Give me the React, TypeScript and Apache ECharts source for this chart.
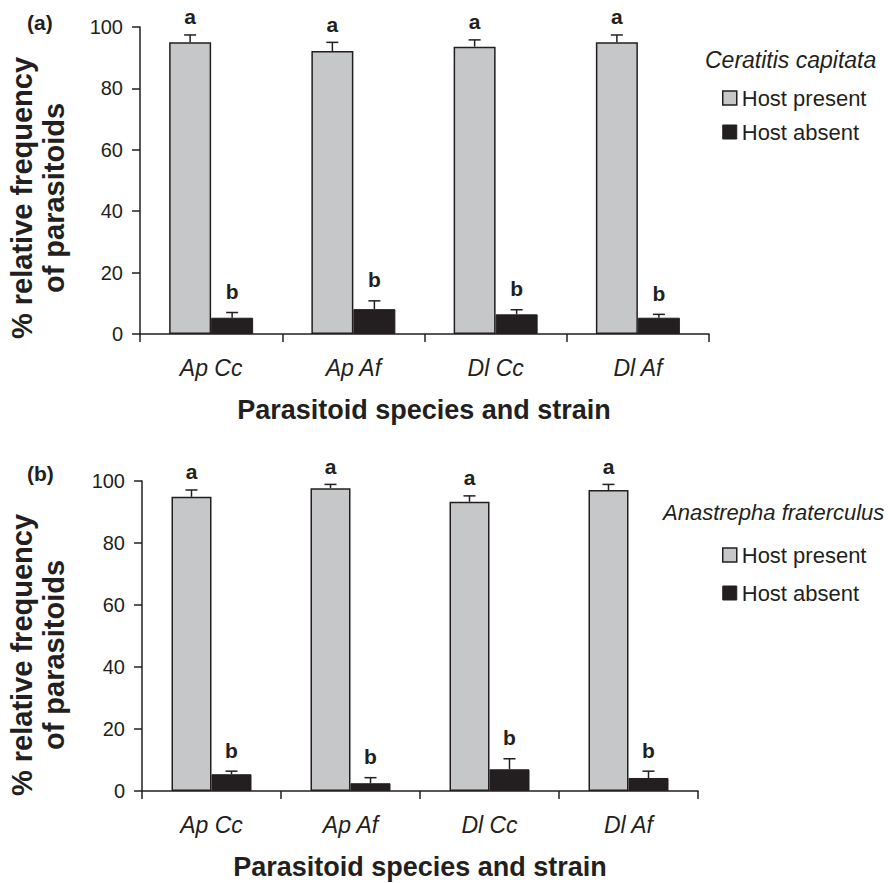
import React, { useEffect, useRef } from "react";
import * as echarts from "echarts";

const categories = ["Ap Cc", "Ap Af", "Dl Cc", "Dl Af"];
const yTicks = [0, 20, 40, 60, 80, 100];

// Panel (a): Ceratitis capitata
const presentA = [95.0, 92.2, 93.6, 95.0];
const presentASE = [2.4, 2.8, 2.2, 2.4];
const absentA = [5.3, 8.1, 6.4, 5.3];
const absentASE = [1.7, 2.7, 1.5, 1.1];

// Panel (b): Anastrepha fraterculus
const presentB = [94.9, 97.7, 93.3, 97.1];
const presentBSE = [2.2, 1.2, 1.9, 1.8];
const absentB = [5.4, 2.5, 7.0, 4.2];
const absentBSE = [1.0, 1.8, 3.4, 2.2];

const lettersPresent = ["a", "a", "a", "a"];
const lettersAbsent = ["b", "b", "b", "b"];

const seriesNames = ["Host present", "Host absent"];
const speciesNames = ["Ceratitis capitata", "Anastrepha fraterculus"];

const FONT = 'Arial, "Liberation Sans", Helvetica, sans-serif';
const INK = "#231f20";
const GRAY = "#c6c7c9";

export default function App() {
  const ref = useRef<HTMLDivElement>(null);

  useEffect(() => {
    document.body.style.margin = "0";
    if (!ref.current) return;
    const chart = echarts.init(ref.current, null, { renderer: "svg" });

    const grids = [
      { left: 140, right: 185, top: 27, height: 307, barW: 42 },
      { left: 142, right: 196, top: 481, height: 310, barW: 40 },
    ];

    const errSeries = (
      gi: number,
      values: number[],
      ses: number[],
      letters: string[],
      side: number
    ) => ({
      type: "custom",
      xAxisIndex: gi,
      yAxisIndex: gi,
      silent: true,
      clip: false,
      z: 5,
      data: values.map((v, i) => [i, v, v + ses[i]]),
      renderItem: (params: any, api: any) => {
        const i = api.value(0);
        const base = api.coord([i, api.value(1)]);
        const top = api.coord([i, api.value(2)]);
        const x = base[0] + (side * grids[gi].barW) / 2;
        const letter = letters[params.dataIndex];
        return {
          type: "group",
          children: [
            {
              type: "line",
              shape: { x1: x, y1: base[1], x2: x, y2: top[1] },
              style: { stroke: INK, lineWidth: 1.5 },
            },
            {
              type: "line",
              shape: { x1: x - 6, y1: top[1], x2: x + 6, y2: top[1] },
              style: { stroke: INK, lineWidth: 1.5 },
            },
            {
              type: "text",
              x: x,
              y: top[1] - (letter === "a" ? 18 : 21),
              style: {
                text: letter,
                fontSize: 21,
                fontWeight: "bold",
                fontFamily: FONT,
                fill: INK,
                align: "center",
                verticalAlign: "middle",
              },
            },
          ],
        };
      },
    });

    const barSeries = (gi: number, name: string, values: number[], present: boolean) => ({
      type: "bar",
      name,
      xAxisIndex: gi,
      yAxisIndex: gi,
      data: values,
      barWidth: grids[gi].barW,
      barGap: "0%",
      itemStyle: present
        ? { color: GRAY, borderColor: INK, borderWidth: 1.5 }
        : { color: INK, borderColor: INK, borderWidth: 1 },
    });

    const xAxis = grids.map((g, gi) => ({
      type: "category",
      gridIndex: gi,
      data: categories,
      axisLine: { show: true, lineStyle: { color: INK, width: 1.5 } },
      axisTick: { show: true, interval: 0, length: 8, lineStyle: { color: INK, width: 1.5 } },
      axisLabel: {
        interval: 0,
        margin: 22,
        fontSize: 23,
        fontStyle: "italic",
        fontFamily: FONT,
        color: INK,
      },
    }));

    const yAxis = grids.map((g, gi) => ({
      type: "value",
      gridIndex: gi,
      min: yTicks[0],
      max: yTicks[yTicks.length - 1],
      interval: 20,
      axisLine: { show: true, lineStyle: { color: INK, width: 1.5 } },
      axisTick: { show: true, length: 8, lineStyle: { color: INK, width: 1.5 } },
      splitLine: { show: false },
      axisLabel: { margin: 17, fontSize: 20, fontFamily: FONT, color: INK },
    }));

    const legendData = () => [
      { name: seriesNames[0], itemStyle: { color: GRAY, borderColor: INK, borderWidth: 1.5 } },
      { name: seriesNames[1], itemStyle: { color: INK, borderColor: INK, borderWidth: 1 } },
    ];

    const legendCommon = {
      orient: "vertical",
      left: 717,
      icon: "rect",
      itemWidth: 14,
      itemHeight: 14,
      selectedMode: false,
      textStyle: { fontSize: 22, fontFamily: FONT, color: INK, lineHeight: 22 },
    };

    const titleText = (text: string, x: number, y: number) => ({
      type: "text",
      x,
      y,
      style: {
        text,
        fontSize: 27,
        fontWeight: "bold",
        fontFamily: FONT,
        fill: INK,
        align: "center",
        verticalAlign: "middle",
      },
    });

    const yTitle = (x: number, y: number) => ({
      type: "text",
      x,
      y,
      rotation: Math.PI / 2,
      style: {
        text: "% relative frequency\nof parasitoids",
        fontSize: 29,
        lineHeight: 32,
        fontWeight: "bold",
        fontFamily: FONT,
        fill: INK,
        align: "center",
        verticalAlign: "middle",
      },
    });

    const italicText = (text: string, x: number, y: number, size: number) => ({
      type: "text",
      x,
      y,
      style: {
        text,
        fontSize: size,
        fontStyle: "italic",
        fontFamily: FONT,
        fill: INK,
        align: "left",
        verticalAlign: "middle",
      },
    });

    const panelLabel = (text: string, x: number, y: number) => ({
      type: "text",
      x,
      y,
      style: {
        text,
        fontSize: 21,
        fontWeight: "bold",
        fontFamily: FONT,
        fill: INK,
        align: "left",
        verticalAlign: "middle",
      },
    });

    chart.setOption({
      animation: false,
      backgroundColor: "#ffffff",
      grid: grids.map((g) => ({ left: g.left, right: g.right, top: g.top, height: g.height })),
      xAxis,
      yAxis,
      legend: [
        { ...legendCommon, top: 82, itemGap: 12, data: legendData() },
        { ...legendCommon, top: 539, itemGap: 16, data: legendData() },
      ],
      graphic: [
        panelLabel("(a)", 27, 22),
        panelLabel("(b)", 27, 473),
        italicText(speciesNames[0], 705, 60, 23),
        italicText(speciesNames[1], 663, 512, 22),
        yTitle(38, 198),
        yTitle(38, 655),
        titleText("Parasitoid species and strain", 424, 410),
        titleText("Parasitoid species and strain", 420, 867),
      ],
      series: [
        barSeries(0, seriesNames[0], presentA, true),
        barSeries(0, seriesNames[1], absentA, false),
        barSeries(1, seriesNames[0], presentB, true),
        barSeries(1, seriesNames[1], absentB, false),
        errSeries(0, presentA, presentASE, lettersPresent, -1),
        errSeries(0, absentA, absentASE, lettersAbsent, 1),
        errSeries(1, presentB, presentBSE, lettersPresent, -1),
        errSeries(1, absentB, absentBSE, lettersAbsent, 1),
      ],
    });

    return () => chart.dispose();
  }, []);

  return <div ref={ref} style={{ width: 894, height: 883 }} />;
}
